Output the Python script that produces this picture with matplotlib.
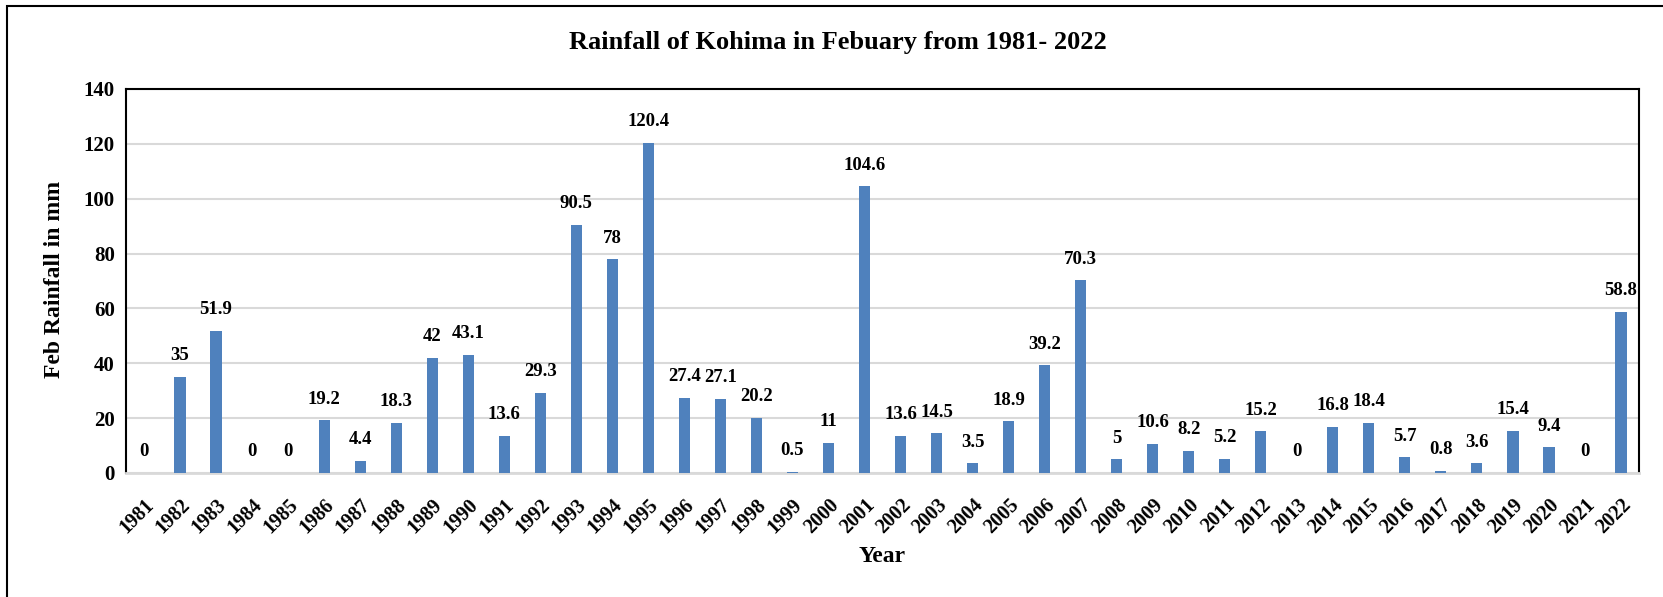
import matplotlib
matplotlib.use("Agg")
import matplotlib.pyplot as plt
from matplotlib.patches import Rectangle

years = [str(y) for y in range(1981, 2023)]
rainfall = [0, 35, 51.9, 0, 0, 19.2, 4.4, 18.3, 42, 43.1, 13.6, 29.3, 90.5, 78, 120.4,
            27.4, 27.1, 20.2, 0.5, 11, 104.6, 13.6, 14.5, 3.5, 18.9, 39.2, 70.3, 5,
            10.6, 8.2, 5.2, 15.2, 0, 16.8, 18.4, 5.7, 0.8, 3.6, 15.4, 9.4, 0, 58.8]
labels = ["0", "35", "51.9", "0", "0", "19.2", "4.4", "18.3", "42", "43.1", "13.6", "29.3",
          "90.5", "78", "120.4", "27.4", "27.1", "20.2", "0.5", "11", "104.6", "13.6", "14.5",
          "3.5", "18.9", "39.2", "70.3", "5", "10.6", "8.2", "5.2", "15.2", "0", "16.8", "18.4",
          "5.7", "0.8", "3.6", "15.4", "9.4", "0", "58.8"]
yticks = [0, 20, 40, 60, 80, 100, 120, 140]

plt.rcParams['font.family'] = ['Liberation Serif', 'DejaVu Serif']
plt.rcParams['font.weight'] = 'bold'

W, H = 1663, 597
fig = plt.figure(figsize=(W / 100, H / 100), dpi=100)
ax = fig.add_axes([126 / W, 1 - 473 / H, (1639 - 126) / W, (473 - 89) / H])

x = list(range(len(years)))
ax.bar(x, rainfall, width=0.31, color='#4f81bd', zorder=3)
ax.set_xlim(-0.5, len(years) - 0.5)
ax.set_ylim(0, 140)
ax.set_yticks(yticks)
ax.set_yticklabels([str(v) for v in yticks], fontsize=15, fontweight='bold')
ax.set_xticks(x)
ax.set_xticklabels(years, rotation=45, ha='right', va='top', rotation_mode='anchor',
                   fontsize=14.5, fontweight='bold')
ax.tick_params(axis='y', length=0, pad=8)
ax.tick_params(axis='x', length=0, pad=16)
ax.grid(axis='y', color='#d9d9d9', linewidth=1.5, zorder=0)
for s in ['left', 'top', 'right']:
    ax.spines[s].set_color('black')
    ax.spines[s].set_linewidth(1.5)
ax.spines['bottom'].set_color('#d9d9d9')
ax.spines['bottom'].set_linewidth(2)

for xi, v, lab in zip(x, rainfall, labels):
    ax.annotate(lab, (xi, v), xytext=(0, 9), textcoords='offset points',
                ha='center', va='bottom', fontsize=13.5, fontweight='bold')

ax.set_ylabel('Feb Rainfall in mm', fontsize=17, fontweight='bold')
ax.yaxis.set_label_coords(55 / W, 1 - 279 / H, transform=fig.transFigure)
ax.yaxis.label.set_va('center')
ax.set_xlabel('Year', fontsize=17, fontweight='bold')
ax.xaxis.set_label_coords(882 / W, 1 - 556 / H, transform=fig.transFigure)
ax.xaxis.label.set_va('center')
fig.text(838 / W, 1 - 42 / H, 'Rainfall of Kohima in Febuary from 1981- 2022',
         ha='center', va='center', fontsize=19, fontweight='bold')

fig.patches.append(Rectangle((7 / W, -0.1), 1.2, 1 - 6 / H + 0.1, transform=fig.transFigure,
                             fill=False, edgecolor='black', linewidth=1.5))

fig.savefig('out.png', dpi=100)
